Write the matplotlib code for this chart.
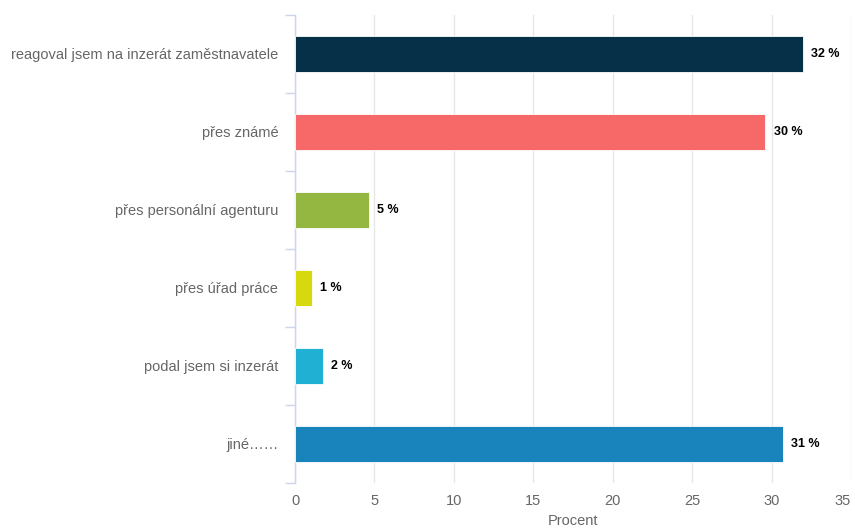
import matplotlib
matplotlib.use("Agg")
import matplotlib.pyplot as plt
from matplotlib.ticker import FixedLocator

plt.rcParams['font.family'] = ['Liberation Sans', 'DejaVu Sans']

categories = [
    "reagoval jsem na inzerát zaměstnavatele",
    "přes známé",
    "přes personální agenturu",
    "přes úřad práce",
    "podal jsem si inzerát",
    "jiné……",
]
values = [31.95, 29.6, 4.65, 1.07, 1.75, 30.7]
colors = ["#063047", "#f76868", "#93b740", "#d8d80f", "#1fb0d3", "#1984bc"]
x_ticks = [0, 5, 10, 15, 20, 25, 30, 35]
x_title = "Procent"

fig = plt.figure(figsize=(8.55, 5.3), dpi=100)
ax = fig.add_axes([295 / 855, 1 - 483 / 530, 556 / 855, 468 / 530])

n = len(categories)
ypos = list(range(n))
ax.barh(ypos, values, height=0.46, color=colors, edgecolor="white",
        linewidth=0.6, zorder=3)

for y, v in zip(ypos, values):
    ax.annotate(f"{round(v):d} %", xy=(v, y), xytext=(6, 0),
                textcoords="offset points", va="center", ha="left",
                fontsize=9, fontweight="bold", color="#000000", zorder=4)

ax.set_ylim(n - 0.5, -0.5)
ax.set_xlim(0, 35)
ax.set_yticks(ypos)
ax.set_yticklabels(categories)
ax.yaxis.set_minor_locator(FixedLocator([i - 0.5 for i in range(n + 1)]))
ax.tick_params(axis="y", which="major", length=0, pad=12, labelsize=10.5,
               labelcolor="#666666")
ax.tick_params(axis="y", which="minor", length=7.5, width=1, color="#ccd6eb")

ax.set_xticks(x_ticks)
ax.tick_params(axis="x", length=0, pad=8, labelsize=10.5, labelcolor="#666666")
# keep the last tick label inside the figure
ax.get_xticklabels()[-1].set_horizontalalignment("right")
ax.grid(axis="x", color="#e6e6e6", linewidth=1, zorder=0)
ax.set_axisbelow(True)
ax.set_xlabel(x_title, fontsize=10.5, color="#666666", labelpad=4)

for side in ("top", "right", "bottom"):
    ax.spines[side].set_visible(False)
ax.spines["left"].set_color("#ccd6eb")
ax.spines["left"].set_linewidth(1)

fig.savefig("out.png", dpi=100)
